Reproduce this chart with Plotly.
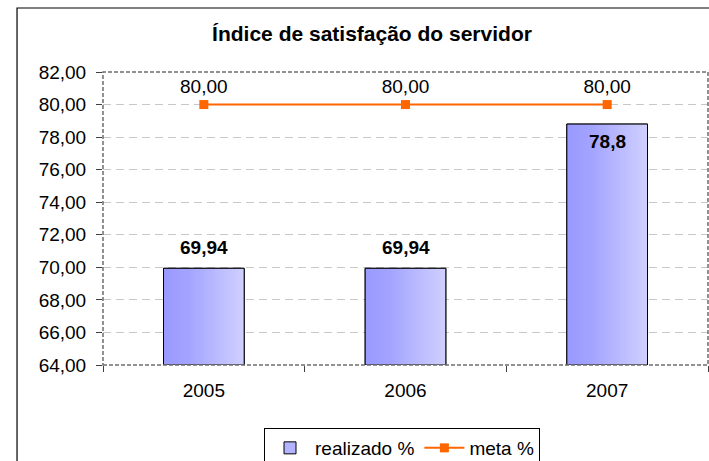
import plotly.graph_objects as go

# ---- data ----
years = ["2005", "2006", "2007"]
realizado = [69.94, 69.94, 78.8]
meta = [80.00, 80.00, 80.00]
y_ticks = [64, 66, 68, 70, 72, 74, 76, 78, 80, 82]
title_text = "Índice de satisfação do servidor"

FONT = "Liberation Sans, Arial, sans-serif"
FS = 19
Y_MIN, Y_MAX = 64, 82
BAR_W = 0.4
xs = list(range(len(years)))

def fmt_general(v):
    return f"{v:g}".replace(".", ",")

def fmt_2(v):
    return f"{v:.2f}".replace(".", ",")

fig = go.Figure()

# legend / base bar
fig.add_trace(go.Bar(
    x=xs, y=realizado, width=BAR_W, name="realizado %",
    marker=dict(color="#b3b3ff", line=dict(color="#000000", width=1)),
    hoverinfo="skip",
))

# gradient overlay for each bar (derived from data through the axes)
for i, v in zip(xs, realizado):
    x0, x1 = i - BAR_W / 2, i + BAR_W / 2
    fig.add_trace(go.Scatter(
        x=[x0, x1, x1, x0, x0], y=[Y_MIN, Y_MIN, v, v, Y_MIN],
        mode="lines", fill="toself",
        fillgradient=dict(type="horizontal",
                          colorscale=[[0, "#9999ff"], [0.3, "#a3a3ff"], [1, "#d0d0ff"]]),
        line=dict(color="#000000", width=1),
        showlegend=False, hoverinfo="skip",
    ))

# meta line
fig.add_trace(go.Scatter(
    x=xs, y=meta, name="meta %", mode="lines+markers+text",
    line=dict(color="#ff6600", width=2),
    marker=dict(symbol="square", size=9, color="#ff6600"),
    text=[fmt_2(v) for v in meta], textposition="top center",
    textfont=dict(family=FONT, size=FS, color="#000000"),
    hoverinfo="skip",
))

# bar value labels
annotations = []
for i, v, m in zip(xs, realizado, meta):
    inside = (m - v) < 2
    annotations.append(dict(
        x=i, y=v, xref="x", yref="y", text="<b>" + fmt_general(v) + "</b>",
        showarrow=False, font=dict(family=FONT, size=FS, color="#000000"),
        yanchor="top" if inside else "bottom",
        yshift=-5 if inside else 8,
    ))

shapes = [
    # chart outer border
    dict(type="rect", xref="paper", yref="paper", x0=-0.1421, x1=1.04, y0=-0.6, y1=1.2184,
         line=dict(color="#000000", width=1.2), layer="below"),
    # plot area border (dashed)
    dict(type="rect", xref="paper", yref="paper", x0=0, x1=1, y0=0, y1=1,
         line=dict(color="#6e6e6e", width=1.5, dash="4px,2px"), layer="above"),
]

fig.update_layout(
    width=709, height=461,
    margin=dict(l=103, r=1, t=72, b=96, autoexpand=False),
    paper_bgcolor="#ffffff", plot_bgcolor="#ffffff",
    separators=",.",
    font=dict(family=FONT, size=FS, color="#000000"),
    title=dict(text="<b>" + title_text + "</b>", x=372 / 709, xanchor="center",
               y=1 - 34 / 461, yanchor="middle", yref="container",
               font=dict(family=FONT, size=21, color="#000000")),
    showlegend=True,
    legend=dict(orientation="h", x=(264 - 103) / 605, xanchor="left",
                y=(365 - 428) / 293, yanchor="top",
                bordercolor="#000000", borderwidth=1, bgcolor="#ffffff",
                font=dict(family=FONT, size=FS, color="#000000"),
                itemwidth=40, tracegroupgap=0),
    annotations=annotations,
    shapes=shapes,
    xaxis=dict(
        range=[-0.5, len(years) - 0.5], tickmode="array", tickvals=xs, ticktext=years,
        ticks="", showgrid=False, zeroline=False, showline=False,
        ticklabelstandoff=12,
        minor=dict(tickmode="linear", tick0=-0.5, dtick=1, ticks="outside",
                   ticklen=6, tickcolor="#404040", tickwidth=1, showgrid=False),
        tickfont=dict(family=FONT, size=FS, color="#000000"),
        fixedrange=True,
    ),
    yaxis=dict(
        range=[Y_MIN, Y_MAX], tickmode="array", tickvals=y_ticks, tickformat=".2f",
        ticks="outside", ticklen=6, tickcolor="#404040", tickwidth=1,
        showgrid=True, gridcolor="#c8c8c8", griddash="8px,5px", gridwidth=1,
        zeroline=False, showline=False, ticklabelstandoff=6,
        tickfont=dict(family=FONT, size=FS, color="#000000"),
        fixedrange=True,
    ),
    bargap=0.6,
)

fig.write_html(
    "out.html",
    config={"displayModeBar": False},
    post_script="document.body.style.margin='0';document.body.style.overflow='hidden';",
)
